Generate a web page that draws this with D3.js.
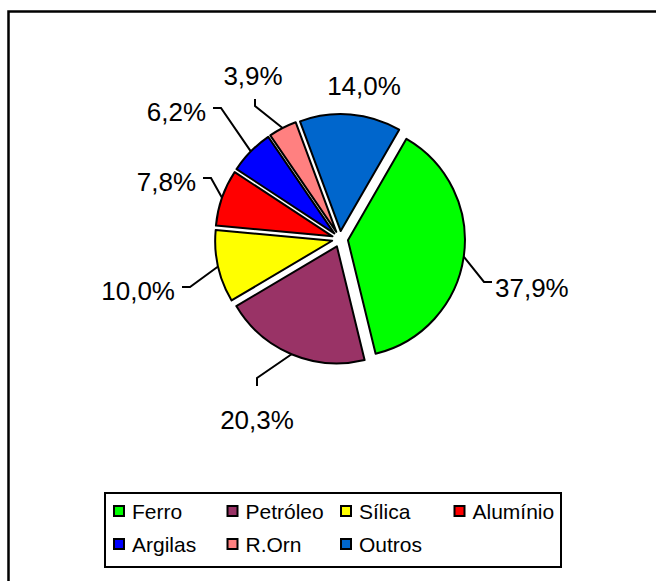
<!DOCTYPE html>
<html>
<head>
<meta charset="utf-8">
<script src="https://cdn.jsdelivr.net/npm/d3@7"></script>
<style>
	body { margin: 0; background: #fff; }
	svg { display: block; font-family: Arial, "Liberation Sans", sans-serif; }
</style>
</head>
<body>
<div id="chart"></div>
<script>

var categories = ["Ferro", "Petróleo", "Sílica", "Alumínio", "Argilas", "R.Orn", "Outros"];
var values = [37.9, 20.3, 10.0, 7.8, 6.2, 3.9, 14.0];
var labels = ["37,9%", "20,3%", "10,0%", "7,8%", "6,2%", "3,9%", "14,0%"];
var colors = ["#00ff00", "#993366", "#ffff00", "#ff0000", "#0000ff", "#ff8080", "#0066cc"];

// where each data label sits (elbow of the leader line, relative to the pie centre)
var labelLayout = [
	{dx: 144, dy: 43, side: "right"},
	{dx: -83, dy: 139, side: "down"},
	{dx: -150, dy: 48, side: "left"},
	{dx: -129, dy: -61, side: "left"},
	{dx: -119, dy: -131, side: "left"},
	{dx: -85, dy: -133, side: "up"},
	{dx: 24, dy: -144, side: "none"}
];

var width = 656, height = 581,
	cx = 340, cy = 239,
	radius = 117, explode = 8;

var svg = d3.select("#chart")
	.append("svg")
	.attr("width", width)
	.attr("height", height);

// chart area frame (right and bottom edges fall outside the picture)
svg.append("rect")
	.attr("x", 8.5).attr("y", 11.5)
	.attr("width", 700).attr("height", 700)
	.attr("fill", "none")
	.attr("stroke", "#000")
	.attr("stroke-width", 2.5);

var colorScale = d3.scaleOrdinal().domain(categories).range(colors);

var pie = d3.pie()
	.sort(null)
	.startAngle(30 * Math.PI / 180)
	.endAngle(390 * Math.PI / 180)
	.value(function(d, i) { return values[i]; });

var arc = d3.arc().innerRadius(0).outerRadius(radius);

var slices = pie(categories);

function midAngle(d) { return (d.startAngle + d.endAngle) / 2; }
function offset(d, r) {
	var a = midAngle(d);
	return [Math.sin(a) * r, -Math.cos(a) * r];
}

var g = svg.append("g")
	.attr("transform", "translate(" + cx + "," + cy + ")");

g.selectAll("path.slice")
	.data(slices)
	.enter().append("path")
		.attr("class", "slice")
		.attr("transform", function(d) { return "translate(" + offset(d, explode) + ")"; })
		.attr("d", arc)
		.attr("fill", function(d) { return colorScale(d.data); })
		.attr("stroke", "#000")
		.attr("stroke-width", 2)
		.attr("stroke-linejoin", "round");

// leader lines and labels
slices.forEach(function(d, i) {
	var lay = labelLayout[i];
	var o = offset(d, explode), p = offset(d, radius);
	var start = [o[0] + p[0], o[1] + p[1]];
	var elbow = [lay.dx, lay.dy];
	var end = elbow.slice();
	var tx, ty, anchor;

	if (lay.side == "right") {
		end[0] += 8; tx = end[0] + 3; ty = end[1] + 15; anchor = "start";
	} else if (lay.side == "left") {
		end[0] -= 8; tx = end[0] - 7; ty = end[1] + 13; anchor = "end";
	} else if (lay.side == "down") {
		end[1] += 8; tx = end[0]; ty = end[1] + 43; anchor = "middle";
	} else if (lay.side == "up") {
		end[1] -= 7; tx = end[0] - 2; ty = end[1] - 14; anchor = "middle";
	} else {
		tx = elbow[0]; ty = elbow[1]; anchor = "middle";
	}

	if (lay.side != "none") {
		g.append("polyline")
			.attr("points", [start, elbow, end].map(function(q) { return q.join(","); }).join(" "))
			.attr("fill", "none")
			.attr("stroke", "#000")
			.attr("stroke-width", 2);
	}

	g.append("text")
		.attr("x", tx)
		.attr("y", ty)
		.attr("text-anchor", anchor)
		.attr("font-size", "26px")
		.attr("fill", "#000")
		.text(labels[i]);
});

// legend
var legend = svg.append("g").attr("class", "legend");

legend.append("rect")
	.attr("x", 105).attr("y", 493)
	.attr("width", 456).attr("height", 74)
	.attr("fill", "#fff")
	.attr("stroke", "#000")
	.attr("stroke-width", 2);

var legendItem = legend.selectAll("g.legend-item")
	.data(categories)
	.enter().append("g")
		.attr("class", "legend-item")
		.attr("transform", function(d, i) {
			return "translate(" + (113 + (i % 4) * 113.5) + "," + (511 + Math.floor(i / 4) * 33) + ")";
		});

legendItem.append("rect")
	.attr("x", 1).attr("y", -5)
	.attr("width", 10).attr("height", 10)
	.attr("fill", function(d) { return colorScale(d); })
	.attr("stroke", "#000")
	.attr("stroke-width", 2);

legendItem.append("text")
	.attr("x", 19)
	.attr("y", 7.5)
	.attr("font-size", "21px")
	.attr("fill", "#000")
	.text(function(d) { return d; });

</script>
</body>
</html>
